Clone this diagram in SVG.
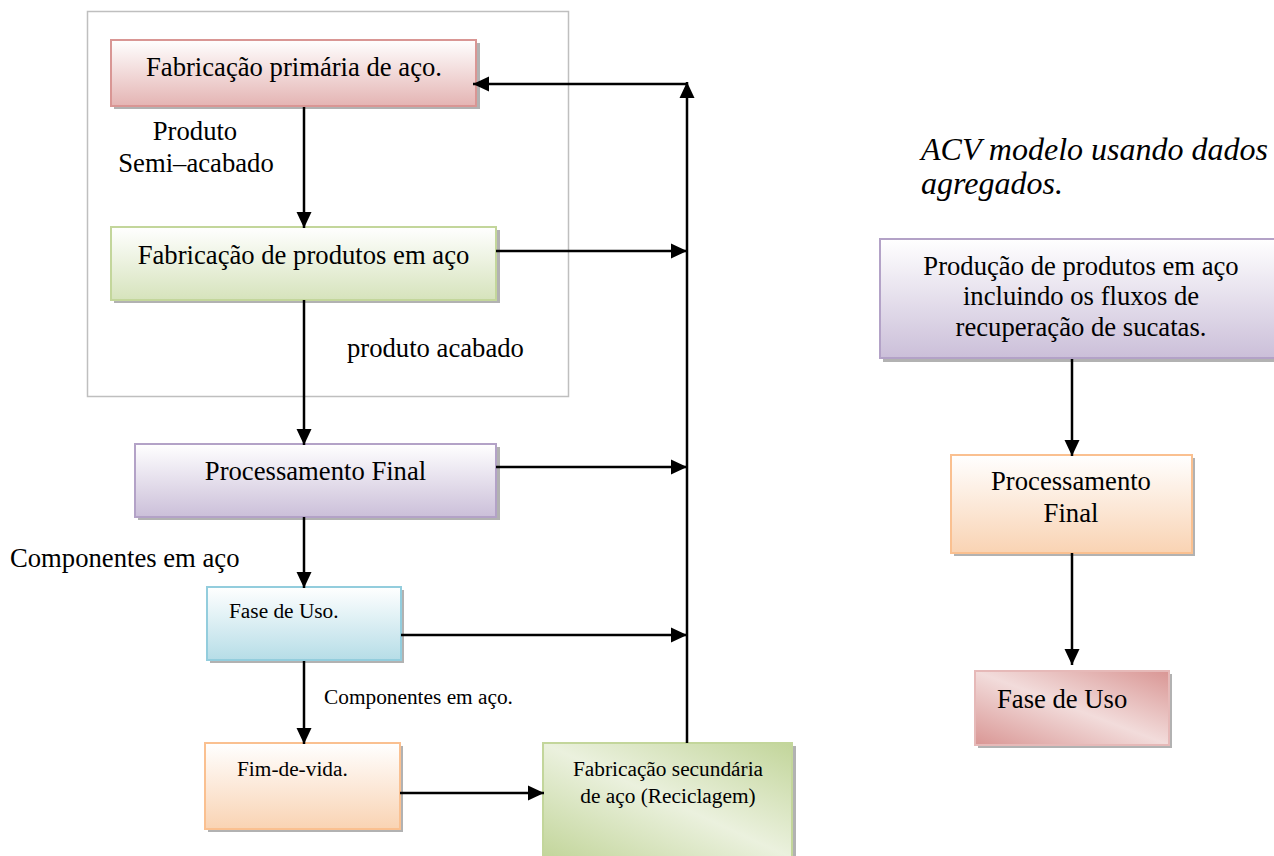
<svg xmlns="http://www.w3.org/2000/svg" width="1274" height="856" viewBox="0 0 1274 856">
<defs>
<linearGradient id="gPink" x1="0" y1="0" x2="0" y2="1"><stop offset="0" stop-color="#ffffff"/><stop offset="1" stop-color="#e4b4b3"/></linearGradient>
<linearGradient id="gGreen" x1="0" y1="0" x2="0" y2="1"><stop offset="0" stop-color="#ffffff"/><stop offset="1" stop-color="#d6e3bc"/></linearGradient>
<linearGradient id="gPurple" x1="0" y1="0" x2="0" y2="1"><stop offset="0" stop-color="#ffffff"/><stop offset="1" stop-color="#cbbfd9"/></linearGradient>
<linearGradient id="gCyan" x1="0" y1="0" x2="0" y2="1"><stop offset="0" stop-color="#ffffff"/><stop offset="1" stop-color="#b6dde7"/></linearGradient>
<linearGradient id="gOrange" x1="0" y1="0" x2="0" y2="1"><stop offset="0" stop-color="#ffffff"/><stop offset="1" stop-color="#f9d3b3"/></linearGradient>
<linearGradient id="gGreenDiag" x1="0" y1="1" x2="1" y2="0"><stop offset="0" stop-color="#c2d59a"/><stop offset="0.5" stop-color="#ebf1de"/><stop offset="1" stop-color="#c2d59a"/></linearGradient>
<linearGradient id="gPinkDiag" x1="0" y1="1" x2="1" y2="0"><stop offset="0" stop-color="#d99694"/><stop offset="0.5" stop-color="#f2dcdb"/><stop offset="1" stop-color="#d99694"/></linearGradient>
<marker id="arr" markerWidth="16" markerHeight="16" refX="16" refY="8" orient="auto" markerUnits="userSpaceOnUse">
<path d="M0,0.5 L16,8 L0,15.5 Z" fill="#000"/>
</marker>
</defs>
<style>
text{fill:#000;font-family:"Liberation Serif","Times New Roman",serif}
.big{font-size:26.67px}
.sm{font-size:21.33px}
.it{font-size:32px;font-style:italic}
.sh{fill:#000;opacity:0.3}
.c{stroke:#000;stroke-width:2.5;fill:none}
</style>
<rect width="1274" height="856" fill="#fff"/>
<rect x="87.5" y="11.5" width="481" height="385" fill="none" stroke="#bfbfbf" stroke-width="1.5"/>

<g id="n1">
<rect class="sh" x="114" y="43" width="366" height="66"/>
<rect x="111" y="40" width="365" height="66" fill="url(#gPink)" stroke="#d99694" stroke-width="2"/>
<text class="big" x="294" y="76" text-anchor="middle">Fabricação primária de aço.</text>
</g>
<g id="n2">
<rect class="sh" x="114" y="230" width="386" height="73"/>
<rect x="111" y="227" width="385" height="73" fill="url(#gGreen)" stroke="#c3d69b" stroke-width="2"/>
<text class="big" x="303.5" y="264" text-anchor="middle">Fabricação de produtos em aço</text>
</g>
<g id="n3">
<rect class="sh" x="138" y="447" width="362" height="73"/>
<rect x="135" y="444" width="361" height="73" fill="url(#gPurple)" stroke="#b3a2c7" stroke-width="2"/>
<text class="big" x="315.5" y="480" text-anchor="middle">Processamento Final</text>
</g>
<g id="n4">
<rect class="sh" x="210" y="590" width="194" height="73"/>
<rect x="207" y="587" width="194" height="73" fill="url(#gCyan)" stroke="#93cddd" stroke-width="2"/>
<text class="sm" x="229" y="618">Fase de Uso.</text>
</g>
<g id="n5">
<rect class="sh" x="208" y="746" width="195" height="86"/>
<rect x="205" y="743" width="195" height="86" fill="url(#gOrange)" stroke="#fac090" stroke-width="2"/>
<text class="sm" x="237" y="776">Fim-de-vida.</text>
</g>
<g id="n6">
<rect class="sh" x="546" y="746" width="250" height="115"/>
<rect x="543" y="743" width="249" height="115" fill="url(#gGreenDiag)" stroke="#c3d69b" stroke-width="2"/>
<text class="sm" x="668" y="776" text-anchor="middle">Fabricação secundária</text>
<text class="sm" x="668" y="803" text-anchor="middle">de aço (Reciclagem)</text>
</g>

<g id="labels">
<text class="big" x="195" y="140" text-anchor="middle">Produto</text>
<text class="big" x="196" y="172" text-anchor="middle">Semi–acabado</text>
<text class="big" x="347" y="357">produto acabado</text>
<text class="big" x="10" y="567">Componentes em aço</text>
<text class="sm" x="324" y="704">Componentes em aço.</text>
<text class="it" x="921" y="160">ACV modelo usando dados</text>
<text class="it" x="921" y="194">agregados.</text>
</g>

<g id="r1">
<rect class="sh" x="883" y="242" width="395" height="120"/>
<rect x="880" y="239" width="396" height="119" fill="url(#gPurple)" stroke="#b3a2c7" stroke-width="2"/>
<text class="big" x="1081" y="275" text-anchor="middle">Produção de produtos em aço</text>
<text class="big" x="1081" y="305" text-anchor="middle">incluindo os fluxos de</text>
<text class="big" x="1081" y="336" text-anchor="middle">recuperação de sucatas.</text>
</g>
<g id="r2">
<rect class="sh" x="954" y="458" width="241" height="98"/>
<rect x="951" y="455" width="241" height="98" fill="url(#gOrange)" stroke="#fac090" stroke-width="2"/>
<text class="big" x="1071" y="490" text-anchor="middle">Processamento</text>
<text class="big" x="1071" y="522" text-anchor="middle">Final</text>
</g>
<g id="r3">
<rect class="sh" x="978" y="674" width="194" height="74"/>
<rect x="975" y="671" width="194" height="74" fill="url(#gPinkDiag)" stroke="#e6b9b8" stroke-width="2"/>
<text class="big" x="997" y="708">Fase de Uso</text>
</g>

<g id="connectors">
<line class="c" x1="304" y1="107" x2="304" y2="228" marker-end="url(#arr)"/>
<line class="c" x1="304" y1="300" x2="304" y2="445" marker-end="url(#arr)"/>
<line class="c" x1="304" y1="517" x2="304" y2="588" marker-end="url(#arr)"/>
<line class="c" x1="304" y1="661" x2="304" y2="744" marker-end="url(#arr)"/>
<line class="c" x1="400" y1="793" x2="544" y2="793" marker-end="url(#arr)"/>
<line class="c" x1="687" y1="743" x2="687" y2="82" marker-end="url(#arr)"/>
<line class="c" x1="688" y1="84" x2="473" y2="84" marker-end="url(#arr)"/>
<line class="c" x1="496" y1="251" x2="687" y2="251" marker-end="url(#arr)"/>
<line class="c" x1="496" y1="467" x2="687" y2="467" marker-end="url(#arr)"/>
<line class="c" x1="401" y1="635" x2="687" y2="635" marker-end="url(#arr)"/>
<line class="c" x1="1072" y1="359" x2="1072" y2="456" marker-end="url(#arr)"/>
<line class="c" x1="1072" y1="553" x2="1072" y2="665" marker-end="url(#arr)"/>
</g>
</svg>
